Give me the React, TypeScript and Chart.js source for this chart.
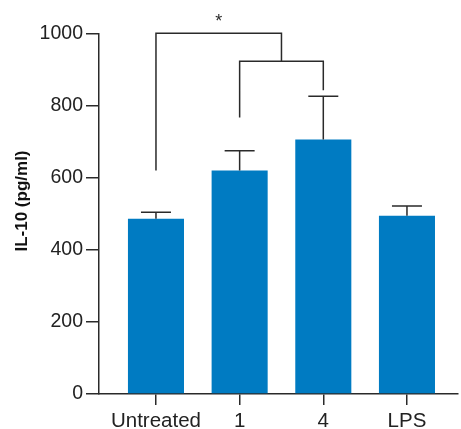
import { useEffect, useRef } from 'react';
import { Chart, registerables } from 'chart.js';

Chart.register(...registerables);

const categories = ['Untreated', '1', '4', 'LPS'];
const means = [487, 621, 707, 495];
const errorTops = [505, 676, 827, 522];
const yTickValues = [0, 200, 400, 600, 800, 1000];
const brackets = [
  { from: 0, to: 1.5, leftLeg: 621, rightLeg: 924, top: 1002, label: '*' },
  { from: 1, to: 2, leftLeg: 768, rightLeg: 844, top: 924, label: '' },
];
const yTitle = 'IL-10 (pg/ml)';

const FONT = '"Liberation Sans", Arial, Helvetica, sans-serif';
const LINE = '#2a2a2a';

const overlayPlugin = {
  id: 'overlay',
  afterDatasetsDraw(chart: any) {
    const { ctx, scales } = chart;
    const x = scales.x;
    const y = scales.y;
    ctx.save();
    ctx.strokeStyle = LINE;
    ctx.lineWidth = 1.5;
    ctx.lineCap = 'butt';
    // error bars
    means.forEach((m, i) => {
      const px = x.getPixelForValue(i);
      const y0 = y.getPixelForValue(m);
      const y1 = y.getPixelForValue(errorTops[i]);
      ctx.beginPath();
      ctx.moveTo(px, y0);
      ctx.lineTo(px, y1);
      ctx.moveTo(px - 15, y1);
      ctx.lineTo(px + 15, y1);
      ctx.stroke();
    });
    // brackets
    brackets.forEach((b) => {
      const xa = x.getPixelForValue(b.from);
      const xb = x.getPixelForValue(b.to);
      const yt = y.getPixelForValue(b.top);
      ctx.beginPath();
      ctx.moveTo(xa, y.getPixelForValue(b.leftLeg));
      ctx.lineTo(xa, yt);
      ctx.lineTo(xb, yt);
      ctx.lineTo(xb, y.getPixelForValue(b.rightLeg));
      ctx.stroke();
      if (b.label) {
        ctx.fillStyle = LINE;
        ctx.font = `18px ${FONT}`;
        ctx.textAlign = 'center';
        ctx.textBaseline = 'alphabetic';
        ctx.fillText(b.label, (xa + xb) / 2, yt - 6);
      }
    });
    ctx.restore();
  },
  afterDraw(chart: any) {
    const { ctx } = chart;
    ctx.save();
    ctx.translate(22.5, 201);
    ctx.rotate(-Math.PI / 2);
    ctx.fillStyle = '#111';
    ctx.font = `bold 17px ${FONT}`;
    ctx.textAlign = 'center';
    ctx.textBaseline = 'middle';
    ctx.fillText(yTitle, 0, 0);
    ctx.restore();
  },
};

export default function App() {
  const canvasRef = useRef<HTMLCanvasElement | null>(null);

  useEffect(() => {
    if (!canvasRef.current) return;
    const chart = new Chart(canvasRef.current, {
      type: 'bar',
      data: {
        datasets: [
          {
            data: categories.map((_, i) => ({ x: i, y: means[i] })),
            backgroundColor: '#007bc2',
            borderWidth: 0,
            barPercentage: 0.67,
            categoryPercentage: 1,
          },
        ],
      },
      options: {
        animation: false,
        responsive: true,
        maintainAspectRatio: false,
        layout: { padding: { top: 34, right: 3, left: 0, bottom: 0 } },
        plugins: {
          legend: { display: false },
          tooltip: { enabled: false },
        },
        scales: {
          x: {
            type: 'linear',
            min: -0.681,
            max: 3.61,
            offset: false,
            grid: {
              offset: false,
              drawOnChartArea: false,
              drawTicks: true,
              tickLength: 11,
              color: LINE,
              lineWidth: 1.5,
            },
            border: { display: true, color: LINE, width: 1.5 },
            afterBuildTicks: (s: any) => {
              s.ticks = categories.map((_, i) => ({ value: i }));
            },
            afterFit: (s: any) => {
              s.height = 35;
            },
            ticks: {
              autoSkip: false,
              maxRotation: 0,
              padding: 4,
              color: '#222',
              font: { family: FONT, size: 20.5 },
              callback: (v: any) => categories[v] ?? '',
            },
          },
          y: {
            min: 0,
            max: 1000,
            grid: {
              drawOnChartArea: false,
              drawTicks: true,
              tickLength: 13,
              color: LINE,
              lineWidth: 1.5,
            },
            border: { display: true, color: LINE, width: 1.5 },
            afterBuildTicks: (s: any) => {
              s.ticks = yTickValues.map((v) => ({ value: v }));
            },
            afterFit: (s: any) => {
              s.width = 99;
            },
            ticks: {
              padding: 3,
              color: '#222',
              font: { family: FONT, size: 19.5 },
              callback: (v: any) => String(v),
            },
          },
        },
      },
      plugins: [overlayPlugin],
    } as any);
    return () => chart.destroy();
  }, []);

  return (
    <div style={{ position: 'fixed', left: 0, top: 0, width: 461, height: 429, background: '#fff' }}>
      <canvas ref={canvasRef} />
    </div>
  );
}
